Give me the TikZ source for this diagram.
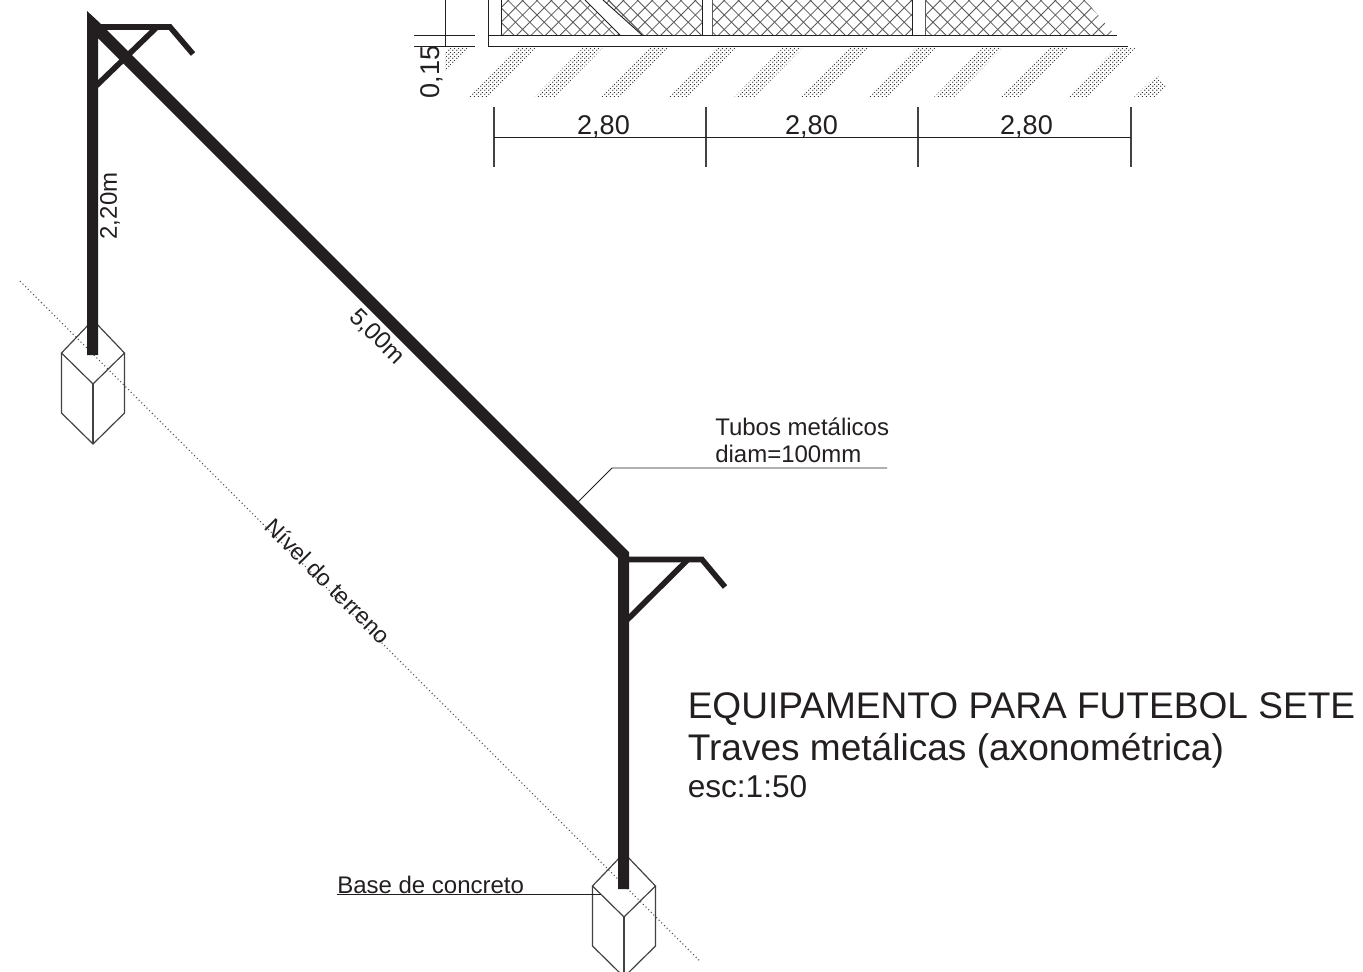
\documentclass[tikz,border=0pt]{standalone}
\usepackage{fontspec}
\setmainfont{Liberation Sans}
\usetikzlibrary{patterns}
\definecolor{tubecolor}{HTML}{231F20}
\pgfdeclarepatternformonly{grounddots}{\pgfpointorigin}{\pgfqpoint{3pt}{3pt}}{\pgfqpoint{3pt}{3pt}}
{
	\pgfpathcircle{\pgfqpoint{0.75pt}{0.75pt}}{0.62pt}
	\pgfpathcircle{\pgfqpoint{2.25pt}{2.25pt}}{0.62pt}
	\pgfusepath{fill}
}
\begin{document}
\begin{tikzpicture}
	[x=0.75pt,y=-0.75pt,
	tube/.style={fill=tubecolor,draw=none},
	arm/.style={draw=tubecolor,line width=4.2pt,line join=miter},
	thin/.style={draw=tubecolor,line width=0.7pt},
	edge/.style={draw=tubecolor!85!white,line width=0.9pt},
	mesh/.style={draw=black!65,line width=0.6pt},
	ground/.style={pattern=grounddots,pattern color=black!80,draw=none},
	label/.style={inner sep=0pt,text=tubecolor,font=\fontsize{20.3}{22}\selectfont},
	note/.style={inner sep=0pt,text=tubecolor,font=\fontsize{18}{20}\selectfont},
	title/.style={inner sep=0pt,anchor=base west,text=tubecolor,font=\fontsize{27.8}{30}\selectfont}]
	\useasboundingbox (0,0) rectangle (1363,971);
	\clip (0,0) rectangle (1363,971);

	% ground hatch under the elevation
	\begin{scope}
		\clip (445,47) rectangle (1170,97);
		\foreach \k in {-1,...,9}
		{
			\fill[ground] ({468+66.6*\k},97) -- ({488+66.6*\k},97) -- ({537+66.6*\k},47) -- ({517+66.6*\k},47) -- cycle;
		}
		\fill[ground] (1134,97) -- (1155,97) -- (1166,86) -- (1157,75) -- cycle;
	\end{scope}

	% mesh panels
	\begin{scope}
		\clip (501,0) -- (585,0) -- (620,35) -- (501,35) -- cycle
			(603,0) -- (642,35) -- (702,35) -- (702,0) -- cycle
			(712,0) -- (912,0) -- (912,35) -- (712,35) -- cycle
			(925,0) -- (1085,0) -- (1115,35) -- (925,35) -- cycle;
		\foreach \k in {0,...,50}
		{
			\draw[mesh] ({440+14.4*\k},-10) -- ({490+14.4*\k},40);
			\draw[mesh] ({490+14.4*\k},-10) -- ({440+14.4*\k},40);
		}
	\end{scope}
	\draw[thin] (585,0) -- (620,35);
	\draw[thin] (603,0) -- (642,35);
	\draw[mesh] (608,0) -- (640,32);
	\draw[thin] (501,0) -- (501,35);
	\draw[thin] (702,0) -- (702,35);
	\draw[mesh] (712,0) -- (712,35);
	\draw[thin] (912,0) -- (912,35);
	\draw[mesh] (925,0) -- (925,35);

	% elevation frame and dimensions
	\coordinate (frametop) at (488,0);
	\coordinate (framea) at (488,35);
	\coordinate (frameb) at (488,46);
	\coordinate (framec) at (1117,35);
	\coordinate (framed) at (1128,46);
	\draw[thin] (frametop) -- (frameb) -- (framed);
	\draw[thin] (framea) -- (framec);
	\coordinate (dimtop) at (445,0);
	\coordinate (dimbot) at (445,46);
	\draw[thin] (dimtop) -- (dimbot);
	\draw[thin] (414,35) -- (475,35);
	\draw[thin] (414,46) -- (475,46);
	\node[label,rotate=90] (dimv) at (432,72) {0,15};
	\foreach \x/\n in {494/a,706/b,918/c,1131/d}
	{
		\coordinate (tick\n) at (\x,137);
		\draw[edge] (\x,107) -- (\x,167);
	}
	\draw[thin] (ticka) -- (tickd);
	\node[label] (dima) at (603.5,126.5) {2,80};
	\node[label] (dimb) at (811.5,126.5) {2,80};
	\node[label] (dimc) at (1026.5,126.5) {2,80};

	% ground level line
	\coordinate (levela) at (20,281);
	\coordinate (levelb) at (700,961);
	\draw[black!70,line width=0.8pt,dotted] (levela) -- (levelb);

	% concrete bases
	\foreach \cx/\cy/\n in {93/320/l,624/853/r}
	{
		\coordinate (top\n) at (\cx,\cy);
		\coordinate (west\n) at ({\cx-31.5},{\cy+33});
		\coordinate (east\n) at ({\cx+31.5},{\cy+33});
		\coordinate (front\n) at (\cx,{\cy+64});
		\coordinate (sw\n) at ({\cx-31.5},{\cy+93});
		\coordinate (se\n) at ({\cx+31.5},{\cy+93});
		\coordinate (foot\n) at (\cx,{\cy+124});
		\draw[edge] (top\n) -- (west\n) -- (front\n) -- (east\n) -- cycle;
		\draw[edge] (west\n) -- (sw\n) -- (foot\n) -- (se\n) -- (east\n);
		\draw[edge] (front\n) -- (foot\n);
	}

	% tubes
	\coordinate (arml) at (98,27);
	\coordinate (kneel) at (170,27);
	\coordinate (tipl) at (193,54);
	\coordinate (bracel) at (96,86);
	\coordinate (braceendl) at (157,27);
	\coordinate (armr) at (627,559.5);
	\coordinate (kneer) at (702,559.5);
	\coordinate (tipr) at (725,587);
	\coordinate (bracer) at (627,620);
	\coordinate (braceendr) at (688,559.5);
	\draw[arm] (arml) -- (kneel) -- (tipl);
	\draw[arm] (bracel) -- (braceendl);
	\draw[arm] (armr) -- (kneer) -- (tipr);
	\draw[arm] (bracer) -- (braceendr);
	\fill[tube] (87,11) -- (100,23) -- (629,552) -- (629,889) -- (618,889) -- (618,558) -- (98,38) -- (98,355) -- (87,355) -- cycle;

	% labels
	\node[note,rotate=90] (postlabel) at (110,206) {2,20m};
	\node[note,rotate=-45] (beamlabel) at (377,337) {5,00m};
	\node[note,rotate=-45,font=\fontsize{17.4}{20}\selectfont] (levellabel) at (328,581) {Nível do terreno};
	\node[note,anchor=west] (tubea) at (715,427) {Tubos metálicos};
	\node[note,anchor=west] (tubeb) at (715,454) {diam=100mm};
	\coordinate (tubefoot) at (578,502);
	\coordinate (tubeknee) at (612,468);
	\coordinate (tubeend) at (887,468);
	\draw[thin] (tubefoot) -- (tubeknee) -- (tubeend);
	\node[note,anchor=west] (basea) at (337,885) {Base de concreto};
	\coordinate (basestart) at (337,894);
	\coordinate (baseend) at (601,894);
	\draw[thin] (basestart) -- (baseend);
	\node[title] (titlea) at (687.5,718.5) {EQUIPAMENTO PARA FUTEBOL SETE};
	\node[title] (titleb) at (687.5,760) {Traves metálicas (axonométrica)};
	\node[title,font=\fontsize{23.7}{26}\selectfont] (titlec) at (687.5,797) {esc:1:50};
\end{tikzpicture}
\end{document}
